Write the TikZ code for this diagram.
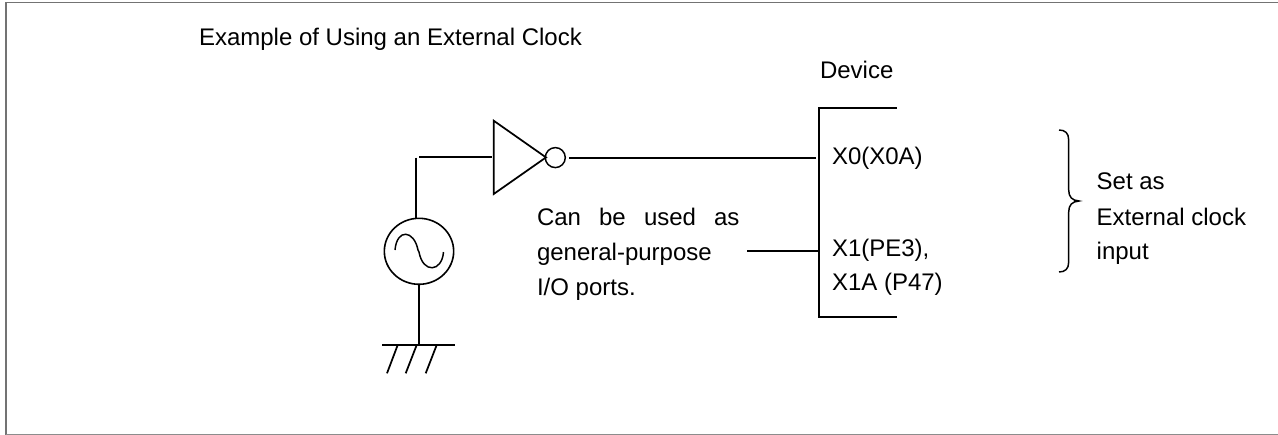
\documentclass[tikz,border=0pt]{standalone}
\usepackage{fontspec}
\usetikzlibrary{shapes.geometric}
\setmainfont{Liberation Sans}
\begin{document}
\begin{tikzpicture}[x=0.75pt,y=-0.75pt,
  wire/.style={line width=1.3pt,black,line cap=butt},
  label/.style={anchor=base west,inner sep=0pt,outer sep=0pt,font=\fontsize{18pt}{21pt}\selectfont,text=black}]
\useasboundingbox (0,0) rectangle (1278,435);
\draw[line width=1.1pt,black!55] (6,435) -- (6,2.5) -- (1278,2.5);
\draw[line width=1.1pt,black!45] (6,434.5) -- (1278,434.5);
% labels
\node[label] (title) at (199,46) {Example of Using an External Clock};
\node[label] (dev) at (820,79) {Device};
\node[label] (can) at (537,225) {Can};
\node[label] (be) at (599,225) {be};
\node[label] (used) at (644,225) {used};
\node[label] (as) at (714,225) {as};
\node[label] (gp) at (537,260) {general-purpose};
\node[label] (io) at (537,295) {I/O ports.};
\node[label] (x0) at (832,164) {X0(X0A)};
\node[label] (x1) at (832,256) {X1(PE3),};
\node[label] (x1a) at (832,290) {X1A (P47)};
\node[label] (set) at (1096.7,189.3) {Set as};
\node[label] (ext) at (1096.7,225) {External clock};
\node[label] (inp) at (1096.7,259) {input};
% inverter
\coordinate (invT) at (493.7,120.7);
\coordinate (invB) at (493.7,194);
\coordinate (invTip) at (546,157.4);
\draw[wire] (invT) -- (invTip) -- (invB) -- cycle;
\node[draw,circle,line width=1.1pt,minimum size=15pt,inner sep=0pt] (bub) at (555.3,157.6) {};
% source
\node[draw,ellipse,line width=1.2pt,minimum width=52pt,minimum height=49.5pt,inner sep=0pt] (src) at (419,251.3) {};
\draw[line width=1.1pt] (395,250) .. controls (397,228) and (414,230) .. (418,250) -- (419,252) .. controls (423,274) and (442,272) .. (443.5,252);
% device pins
\coordinate (devTR) at (896.7,108);
\coordinate (devTL) at (819.3,108);
\coordinate (devBL) at (819.3,317.3);
\coordinate (devBR) at (896.7,317.3);
\draw[wire] (devTR) -- (devTL) -- (devBL) -- (devBR);
\coordinate (pin0) at (815.7,158.2);
\coordinate (pin1) at (817.7,251.3);
\coordinate (pin1s) at (747,251.3);
\coordinate (out0) at (569,158.2);
\draw[wire] (out0) -- (pin0);
\draw[wire] (pin1s) -- (pin1);
% input wire
\coordinate (inA) at (419.3,157);
\coordinate (inB) at (492,157);
\coordinate (vA) at (416.3,157.5);
\coordinate (vB) at (416.3,218);
\draw[wire] (inA) -- (inB);
\draw[wire] (vA) -- (vB);
% ground
\coordinate (gT) at (419,284.5);
\coordinate (gB) at (419,345);
\coordinate (gL) at (382,345);
\coordinate (gR) at (454.7,345);
\draw[wire] (gT) -- (gB);
\draw[wire] (gL) -- (gR);
\draw[wire] (397.7,345) -- (387,373.3);
\draw[wire] (416.7,345) -- (405.7,373.3);
\draw[wire] (436.7,345) -- (425.7,373.3);
% brace
\draw[line width=1.1pt] (1059,130) .. controls (1065,130) and (1068.7,133) .. (1068.7,140)
  -- (1068.7,190) .. controls (1068.7,197) and (1072,200.5) .. (1079,201)
  .. controls (1072,201.5) and (1068.7,205) .. (1068.7,212)
  -- (1068.7,262) .. controls (1068.7,269) and (1065,272) .. (1059,272);
\end{tikzpicture}
\end{document}
